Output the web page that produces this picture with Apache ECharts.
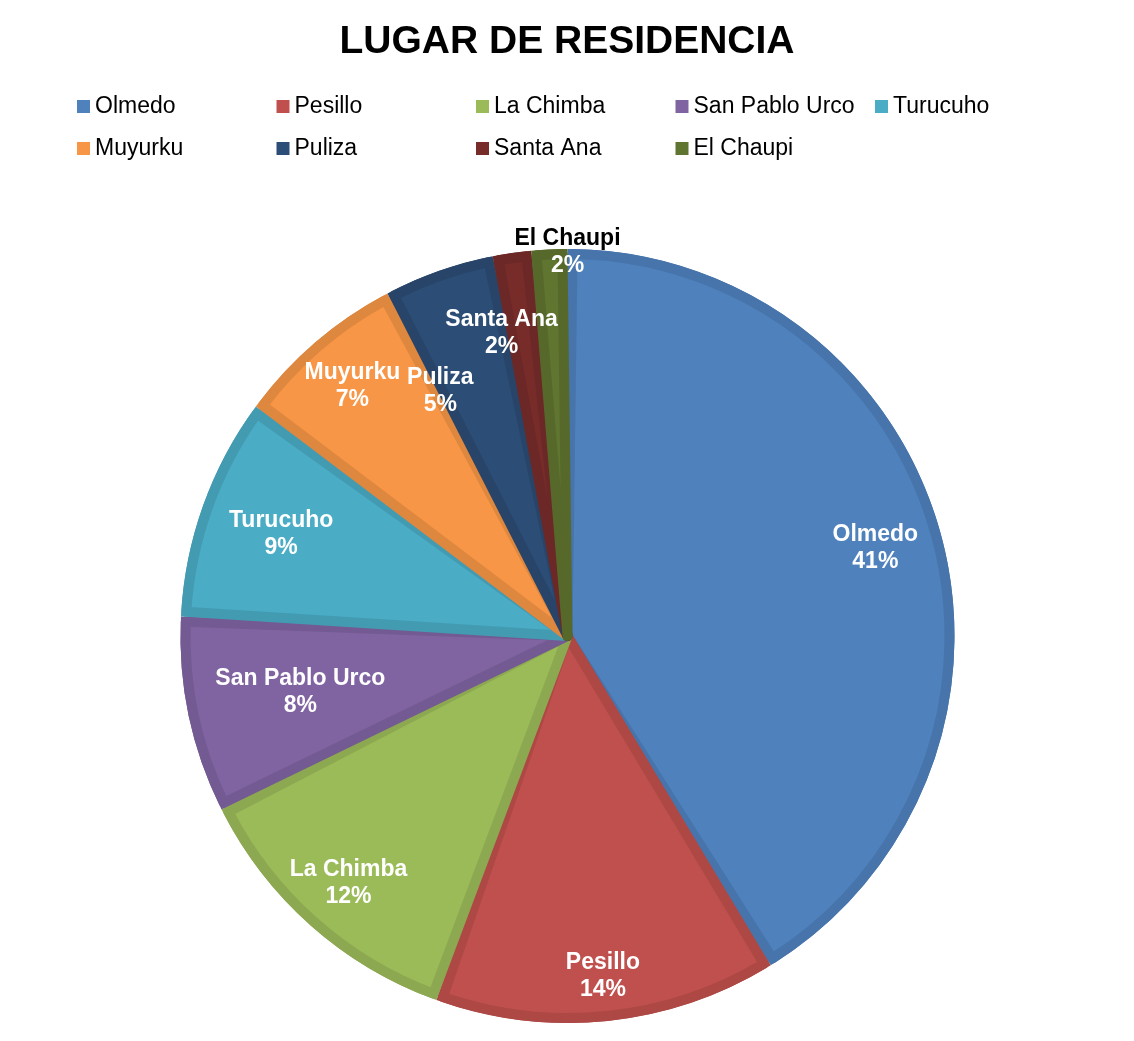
<!DOCTYPE html>
<html>
<head>
<meta charset="utf-8">
<script src="https://cdn.jsdelivr.net/npm/echarts@6/dist/echarts.min.js"></script>
<style>
html,body{margin:0;padding:0;background:#fff;}
#main{width:1134px;height:1041px;}
</style>
</head>
<body>
<div id="main"></div>
<script>
//datos del grafico
var titulo = 'LUGAR DE RESIDENCIA';
var lugares = ['Olmedo', 'Pesillo', 'La Chimba', 'San Pablo Urco', 'Turucuho', 'Muyurku', 'Puliza', 'Santa Ana', 'El Chaupi'];
var porcentajes = [41.2, 14.3, 12.1, 8.2, 9.3, 7.2, 4.6, 1.6, 1.5];

//colores (relleno y borde oscuro estilo Excel)
var colores = ['#4F81BD', '#C0504D', '#9BBB59', '#8064A2', '#4BACC6', '#F79646', '#2C4D75', '#772C2A', '#5F7530'];
var bordes = ['#4774AA', '#AD4845', '#8CA850', '#735A92', '#439BB2', '#DE873F', '#284569', '#6B2826', '#56692B'];

//ajuste de la posicion de las etiquetas (radio y giro en grados)
var radioEtiqueta = [320, 342, 330, 273, 304, 330, 276, 310, 384];
var giroEtiqueta = [0, 0, 0, 0, 0, 0, -8, -4, 2.7];

var centro = [567.5, 636];
var fuente = '"Liberation Sans", Arial, sans-serif';

var total = 0;
for (var i = 0; i < porcentajes.length; i++) {
    total += porcentajes[i];
}
//angulo medio de cada porcion, medido desde las 12 en sentido horario
var medios = [];
var acumulado = 0;
for (var j = 0; j < porcentajes.length; j++) {
    medios.push((acumulado + porcentajes[j] / 2) / total * 360);
    acumulado += porcentajes[j];
}

var datosClaros = lugares.map(function (n, k) {
    return {name: n, value: porcentajes[k], itemStyle: {color: colores[k], borderColor: bordes[k]}};
});
var datosOscuros = lugares.map(function (n, k) {
    return {name: n, value: porcentajes[k], itemStyle: {color: bordes[k]}};
});

var myChart = echarts.init(document.getElementById('main'));
var option = {
    backgroundColor: '#fff',
    animation: false,
    title: {
        text: titulo,
        left: 'center',
        top: 23,
        padding: 0,
        textStyle: {
            fontFamily: fuente,
            fontSize: 39,
            fontWeight: 'bold',
            color: '#000'
        }
    },
    legend: {
        left: 77,
        top: 93,
        width: 1020,
        padding: 0,
        itemGap: 15,
        itemWidth: 13,
        itemHeight: 13,
        icon: 'rect',
        itemStyle: {borderWidth: 0},
        data: lugares,
        textStyle: {
            fontFamily: fuente,
            fontSize: 23,
            color: '#000',
            width: 166.5,
            lineHeight: 27,
            overflow: 'none'
        }
    },
    series: [
        {
            //porciones claras con la etiqueta
            type: 'pie',
            z: 3,
            center: centro,
            radius: 382,
            startAngle: 90,
            clockwise: true,
            padAngle: 1.5,
            silent: true,
            emphasis: {disabled: true},
            itemStyle: {borderWidth: 10, borderJoin: 'round'},
            data: datosClaros,
            label: {
                show: true,
                position: 'inside',
                fontFamily: fuente,
                fontSize: 23,
                fontWeight: 'bold',
                lineHeight: 27,
                color: '#fff',
                formatter: function (p) {
                    var pct = Math.round(p.percent) + '%';
                    if (p.dataIndex === lugares.length - 1) {
                        return '{k|' + p.name + '}\n{w|' + pct + '}';
                    }
                    return '{w|' + p.name + '}\n{w|' + pct + '}';
                },
                rich: {
                    w: {color: '#fff', fontFamily: fuente, fontSize: 23, fontWeight: 'bold', lineHeight: 27},
                    k: {color: '#000', fontFamily: fuente, fontSize: 23, fontWeight: 'bold', lineHeight: 27}
                }
            },
            labelLine: {show: false},
            labelLayout: function (p) {
                var a = (medios[p.dataIndex] + giroEtiqueta[p.dataIndex]) * Math.PI / 180;
                var r = radioEtiqueta[p.dataIndex];
                return {
                    x: centro[0] + r * Math.sin(a),
                    y: centro[1] - r * Math.cos(a)
                };
            }
        },
        {
            //fondo oscuro que forma el borde interior
            type: 'pie',
            z: 2,
            center: centro,
            radius: 387,
            startAngle: 90,
            clockwise: true,
            silent: true,
            emphasis: {disabled: true},
            data: datosOscuros,
            label: {show: false},
            labelLine: {show: false}
        }
    ]
};
myChart.setOption(option);
</script>
</body>
</html>
